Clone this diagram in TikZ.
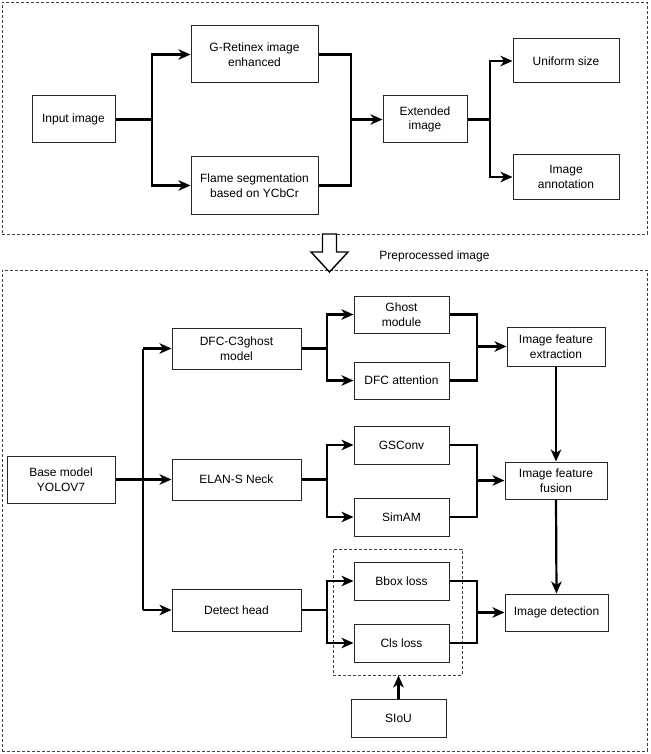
\documentclass[tikz,border=0pt]{standalone}
\usepackage{fontspec}
\setmainfont{Liberation Sans}
\usetikzlibrary{arrows.meta}
\begin{document}
\begin{tikzpicture}[x=1pt,y=-1pt,
  every node/.style={font=\fontsize{12}{14.5}\selectfont, align=center, inner sep=0pt},
  procbox/.style={draw=black!85, line width=1pt, rectangle},
  conn/.style={line width=2.2pt, black},
  arr/.style={conn, -{Stealth[length=12pt,width=10.5pt,inset=3.5pt]}},
  dashbox/.style={draw=black!75, line width=0.9pt, dash pattern=on 3pt off 2pt},
  hollow/.style={draw=black, line width=1.4pt, fill=white, line join=miter}
]
\useasboundingbox (0,0) rectangle (650,754);

% outer dashed frames
\node[dashbox, minimum width=645pt, minimum height=232pt] (topframe) at (324.5,118) {};
\node[dashbox, minimum width=645pt, minimum height=481pt] (botframe) at (324.5,510.5) {};

% ---------- top part ----------
\node[procbox, minimum width=83pt, minimum height=47pt] (in) at (73.5,119.5) {Input image};
\node[procbox, minimum width=127pt, minimum height=57pt] (gr) at (254.5,54.5) {G-Retinex image\\enhanced};
\node[procbox, minimum width=127pt, minimum height=57pt] (fl) at (254.5,185.5) {Flame segmentation\\based on YCbCr};
\node[procbox, minimum width=84pt, minimum height=47pt] (ext) at (425,119.5) {Extended\\image};
\node[procbox, minimum width=106pt, minimum height=44pt] (uni) at (566,61) {Uniform size};
\node[procbox, minimum width=106pt, minimum height=44pt] (ann) at (566,177) {Image\\annotation};

\coordinate (j1) at (152,0);
\coordinate (j2) at (351,0);
\coordinate (j3) at (490,0);

\draw[conn] (in.east) -- (in.east -| j1);
\draw[arr] (in.east -| j1) |- (gr.west);
\draw[arr] (in.east -| j1) |- (fl.west);
\draw[conn] (gr.east) -| (ext.west -| j2);
\draw[conn] (fl.east) -| (ext.west -| j2);
\draw[arr] (ext.west -| j2) -- (ext.west);
\draw[conn] (ext.east) -- (ext.east -| j3);
\draw[arr] (ext.east -| j3) |- (uni.west);
\draw[arr] (ext.east -| j3) |- (ann.west);

% hollow arrow between frames
\draw[hollow] (322.5,234) -- (336.5,234) -- (336.5,252) -- (348,252) -- (329.5,272) -- (311,252) -- (322.5,252) -- cycle;
\node (pre) at (434.5,256) {Preprocessed image};

% ---------- bottom part ----------
\node[procbox, minimum width=108pt, minimum height=47pt] (base) at (61,479.5) {Base model\\YOLOV7};
\node[procbox, minimum width=129pt, minimum height=41pt] (dfc) at (236.5,348.5) {DFC-C3ghost\\model};
\node[procbox, minimum width=129pt, minimum height=41pt] (elan) at (236.5,479.5) {ELAN-S Neck};
\node[procbox, minimum width=129pt, minimum height=42pt] (dh) at (236.5,610) {Detect head};

\node[procbox, minimum width=95pt, minimum height=37pt] (ghost) at (401.5,314.5) {Ghost\\module};
\node[procbox, minimum width=95pt, minimum height=37pt] (datt) at (401.5,380.5) {DFC attention};
\node[procbox, minimum width=95pt, minimum height=38pt] (gs) at (401.5,445) {GSConv};
\node[procbox, minimum width=95pt, minimum height=38pt] (sim) at (401.5,517) {SimAM};
\node[procbox, minimum width=95pt, minimum height=38pt] (bbox) at (401.5,581) {Bbox loss};
\node[procbox, minimum width=95pt, minimum height=38pt] (cls) at (401.5,643) {Cls loss};
\node[dashbox, minimum width=129pt, minimum height=126pt] (lossbox) at (397.5,612) {};
\node[procbox, minimum width=95pt, minimum height=38pt] (siou) at (398.5,718) {SIoU};

\node[procbox, minimum width=98pt, minimum height=39pt] (fext) at (556,346.5) {Image feature\\extraction};
\node[procbox, minimum width=102pt, minimum height=37pt] (fus) at (556,480.5) {Image feature\\fusion};
\node[procbox, minimum width=103pt, minimum height=37pt] (det) at (556.5,612.5) {Image detection};

\coordinate (tr) at (143,0);
\coordinate (jl) at (327,0);
\coordinate (jr) at (477,0);

% trunk from base model
\draw[arr] (base.east) -- (elan.west);
\draw[conn] (dfc.west -| tr) -- (dh.west -| tr);
\draw[arr] (dfc.west -| tr) -- (dfc.west);
\draw[arr] (dh.west -| tr) -- (dh.west);

% DFC branch
\draw[conn] (dfc.east) -- (dfc.east -| jl);
\draw[arr] (dfc.east -| jl) |- (ghost.west);
\draw[arr] (dfc.east -| jl) |- (datt.west);
\draw[conn] (ghost.east) -| (datt.east -| jr) -- (datt.east);
\draw[arr] (fext.west -| jr) -- (fext.west);

% ELAN branch
\draw[conn] (elan.east) -- (elan.east -| jl);
\draw[arr] (elan.east -| jl) |- (gs.west);
\draw[arr] (elan.east -| jl) |- (sim.west);
\draw[conn] (gs.east) -| (sim.east -| jr) -- (sim.east);
\draw[arr] (fus.west -| jr) -- (fus.west);

% Detect head branch
\draw[conn] (dh.east) -- (dh.east -| jl);
\draw[arr] (dh.east -| jl) |- (bbox.west);
\draw[arr] (dh.east -| jl) |- (cls.west);
\draw[conn] (bbox.east) -| (cls.east -| jr) -- (cls.east);
\draw[arr] (det.west -| jr) -- (det.west);

% SIoU to loss group
\draw[arr] (siou.north) -- (siou.north |- lossbox.south);

% vertical flow on the right
\draw[arr] (fext.south) -- (fus.north);
\draw[arr] (fus.south) -- (det.north);
\end{tikzpicture}
\end{document}
